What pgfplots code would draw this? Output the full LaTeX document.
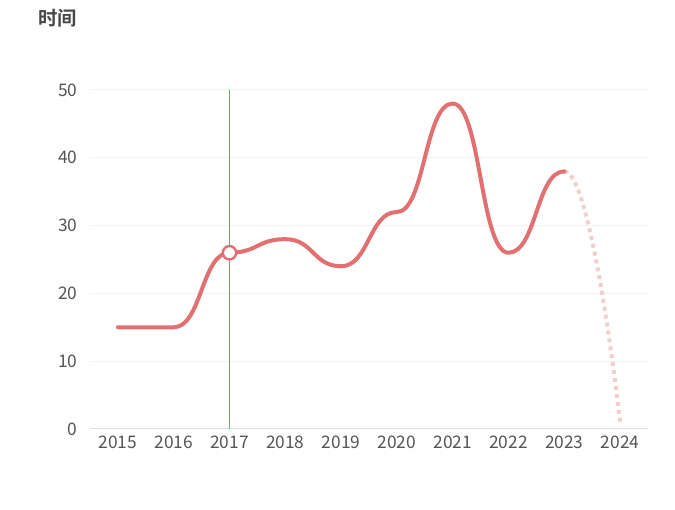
\documentclass[border=0pt]{standalone}
\usepackage{pgfplots}
\pgfplotsset{compat=1.18}
\usepackage{fontspec}
\setmainfont{Noto Sans CJK SC}
\newfontfamily\cjkbold{Noto Sans CJK SC Bold}
\definecolor{lineR}{RGB}{226,112,112}
\definecolor{lineP}{RGB}{244,206,206}
\definecolor{redthin}{RGB}{226,110,110}
\definecolor{tickc}{RGB}{85,85,85}
\definecolor{gridc}{RGB}{242,242,242}
\definecolor{axisc}{RGB}{224,224,224}
\makeatletter
% ECharts-style smooth Bezier plot handler (smooth = 0.5, horizontal control points)
\newcount\ec@n
\newcount\ec@i
\def\ecs{0.5}
\def\ec@from{2}\def\ec@to{1000}
\def\ec@X#1{\csname ec@x@\number#1\endcsname}
\def\ec@Y#1{\csname ec@y@\number#1\endcsname}
\pgfdeclareplothandler{\pgfplothandlerecharts}{}{%
  start={\global\ec@n=0\relax},
  point macro=\ec@point,
  jump={},
  end={\ec@draw},
}
\def\ec@point#1{%
  \pgf@process{#1}%
  \global\advance\ec@n by 1\relax
  \expandafter\xdef\csname ec@x@\the\ec@n\endcsname{\strip@pt\pgf@x}%
  \expandafter\xdef\csname ec@y@\the\ec@n\endcsname{\strip@pt\pgf@y}%
}
\def\ec@draw{%
  \edef\ec@x{\ec@X{1}}\edef\ec@y{\ec@Y{1}}%
  \pgfpathmoveto{\pgfqpoint{\ec@x pt}{\ec@y pt}}%
  \let\ec@cpx\ec@x \let\ec@cpy\ec@y
  \ec@i=2\relax
  \ec@iter
}
\def\ec@iter{%
  \ifnum\ec@i>\ec@n\relax\else
    \ec@segment
    \advance\ec@i by 1\relax
    \expandafter\ec@iter
  \fi}
\def\ec@segment{%
  \edef\ec@x{\ec@X{\ec@i}}\edef\ec@y{\ec@Y{\ec@i}}%
  \edef\ec@px{\ec@X{\numexpr\ec@i-1\relax}}%
  \ifnum\ec@i=\ec@n\relax
    \let\ec@cax\ec@x \let\ec@cay\ec@y
    \let\ec@ncx\ec@x \let\ec@ncy\ec@y
  \else
    \edef\ec@nx{\ec@X{\numexpr\ec@i+1\relax}}%
    \edef\ec@cax{\fpeval{(\ec@x)-((\ec@x)-(\ec@px))*\ecs}}%
    \let\ec@cay\ec@y
    \edef\ec@ncx{\fpeval{(\ec@x)+((\ec@nx)-(\ec@x))*\ecs}}%
    \let\ec@ncy\ec@y
  \fi
  \ifnum\ec@i<\ec@from\relax
    \pgfpathmoveto{\pgfqpoint{\ec@x pt}{\ec@y pt}}%
  \else\ifnum\ec@i>\ec@to\relax
    \pgfpathmoveto{\pgfqpoint{\ec@x pt}{\ec@y pt}}%
  \else
    \pgfpathcurveto{\pgfqpoint{\ec@cpx pt}{\ec@cpy pt}}{\pgfqpoint{\ec@cax pt}{\ec@cay pt}}{\pgfqpoint{\ec@x pt}{\ec@y pt}}%
  \fi\fi
  \let\ec@cpx\ec@ncx \let\ec@cpy\ec@ncy
}
\tikzset{echarts smooth/.code 2 args={\def\ec@from{#1}\def\ec@to{#2}\def\tikz@plot@handler{\pgfplothandlerecharts}}}
\makeatother
\begin{document}
\begin{tikzpicture}[x=0.75pt,y=0.75pt]
\useasboundingbox (-90,-81) rectangle (585,429);
\node[font=\cjkbold\fontsize{14.5pt}{16pt}\selectfont, text=black!72] at (-32,411) {时间};
\begin{axis}[
  at={(0,0)}, anchor=south west,
  scale only axis, width=418.5pt, height=254.25pt,
  xmin=-0.5, xmax=9.5, ymin=0, ymax=50,
  xtick={0,...,9},
  xticklabels={2015,2016,2017,2018,2019,2020,2021,2022,2023,2024},
  ytick={0,10,20,30,40,50},
  axis x line*=bottom,
  axis y line*=left,
  x axis line style={axisc, line width=0.75pt, -},
  y axis line style={draw=none},
  ymajorgrids, grid style={gridc, line width=0.75pt},
  major tick length=0pt,
  tick style={draw=none},
  /pgf/number format/assume math mode=true,
  ticklabel style={font=\fontsize{13pt}{15pt}\selectfont, text=tickc},
  xticklabel style={yshift=-2pt},
  yticklabel style={xshift=-6pt},
  clip=false,
]
% dotted forecast part (last segment of the same smoothed path)
\addplot[draw=lineP, line width=3pt, dash pattern=on 3pt off 3pt, echarts smooth={10}{10}] coordinates {
(0,15) (1,15) (2,26) (3,28) (4,24) (5,32) (6,48) (7,26) (8,38) (9,1)};
% vertical marker line at 2017 (a hairline bar)
\addplot[ybar, bar width=1.1pt, bar shift=0pt, fill=redthin, draw=none] coordinates {(2,50)};
% solid part
\addplot[draw=lineR, line width=3pt, line cap=round, line join=round, echarts smooth={2}{9}] coordinates {
(0,15) (1,15) (2,26) (3,28) (4,24) (5,32) (6,48) (7,26) (8,38) (9,1)};
% highlighted point
\addplot[only marks, mark=*, mark size=5pt, mark options={fill=white, draw=lineR, line width=1.8pt}] coordinates {(2,26)};
\end{axis}
\end{tikzpicture}
\end{document}
